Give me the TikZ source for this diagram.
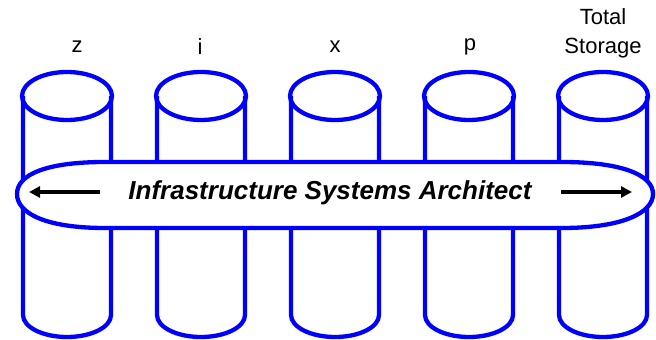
\documentclass[tikz,border=0pt]{standalone}
\usepackage{fontspec}
\setmainfont{Liberation Sans}
\usetikzlibrary{arrows.meta}

\begin{document}
\begin{tikzpicture}[x=1pt, y=1pt,
    tank/.style={draw=blue, line width=4.3pt},
    pfeil/.style={line width=4pt, -{Triangle[length=11pt,width=11pt]}},
    etikett/.style={font=\fontsize{22}{29}\selectfont, align=center}]
    \useasboundingbox (0,0) rectangle (656,340);
    % Speicher
    \foreach \cx in {67,201,335,469,603} {
        \begin{scope}[xshift=\cx]
            \draw[tank] (0,244) ellipse [x radius=45, y radius=24];
            \draw[tank] (-44,244) -- (-44,25)
                arc[start angle=180, end angle=360, x radius=44, y radius=22] -- (44,244);
        \end{scope}
    }
    % Beschriftung
    \foreach \lx/\txt in {77/z, 200/i, 335/x, 470/p} {
        \node[etikett] (lbl\txt) at (\lx,293) {\txt};
    }
    \node[etikett] (lblts) at (603,307) {Total\\Storage};
    % Band
    \draw[tank, fill=white] (105,178) -- (562,178)
        .. controls (622,178) and (653,165) .. (653,146)
        .. controls (653,127) and (622,112) .. (562,112) -- (105,112)
        .. controls (45,112) and (17,127) .. (17,146)
        .. controls (17,165) and (45,178) .. (105,178) -- cycle;
    \node[font=\fontsize{26}{30}\selectfont\bfseries\itshape] (band) at (330,147)
        {Infrastructure Systems Architect};
    \coordinate (la) at (100,148);
    \coordinate (le) at (29,148);
    \coordinate (ra) at (561,148);
    \coordinate (re) at (632,148);
    \draw[pfeil] (la) -- (le);
    \draw[pfeil] (ra) -- (re);
\end{tikzpicture}
\end{document}
